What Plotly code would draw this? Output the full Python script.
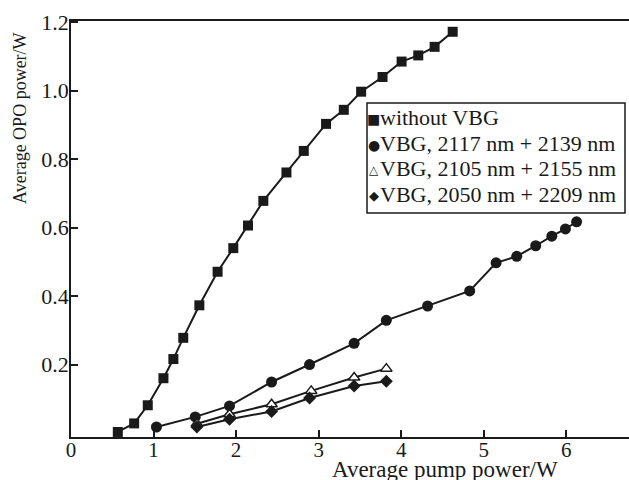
import plotly.graph_objects as go

# Average pump power (W) and average OPO output power (W) for each configuration
pump_no_vbg = [0.567, 0.765, 0.93, 1.12, 1.24, 1.36, 1.555, 1.776, 1.966, 2.144, 2.33,
               2.61, 2.82, 3.09, 3.305, 3.515, 3.774, 4.005, 4.207, 4.405, 4.624]
opo_no_vbg = [0.003, 0.028, 0.081, 0.16, 0.216, 0.278, 0.373, 0.471, 0.54, 0.606, 0.678,
              0.761, 0.824, 0.903, 0.944, 0.997, 1.04, 1.085, 1.103, 1.128, 1.172]

pump_2117 = [1.035, 1.505, 1.92, 2.43, 2.89, 3.43, 3.82, 4.32, 4.83, 5.15, 5.40,
             5.63, 5.825, 5.99, 6.125]
opo_2117 = [0.0175, 0.047, 0.079, 0.149, 0.2, 0.262, 0.329, 0.371, 0.415, 0.497, 0.516,
            0.547, 0.575, 0.596, 0.617]

pump_2105 = [1.525, 1.92, 2.43, 2.91, 3.43, 3.82]
opo_2105 = [0.027, 0.055, 0.084, 0.123, 0.162, 0.188]

pump_2050 = [1.525, 1.92, 2.43, 2.89, 3.43, 3.82]
opo_2050 = [0.0175, 0.04, 0.063, 0.102, 0.137, 0.151]

series_names = [
    "without VBG",
    "VBG, 2117 nm + 2139 nm",
    "VBG, 2105 nm + 2155 nm",
    "VBG, 2050 nm + 2209 nm",
]
legend_glyphs = ["\u25A0", "\u25CF", "\u25B3", "\u25C6"]
legend_glyph_sizes = [14, 14, 12, 13]

x_ticks = [0, 1, 2, 3, 4, 5, 6]
y_ticks = [0.2, 0.4, 0.6, 0.8, 1.0, 1.2]
y_tick_text = ["0.2", "0.4", "0.6", "0.8", "1.0", "1.2"]

x_title = "Average pump power/W"
y_title = "Average OPO power/W"

INK = "#1a1a1a"
SERIF = "Liberation Serif, Times New Roman, serif"
SYMBOL_FONT = "DejaVu Sans"

W, H = 629, 480
ML, MR, MT, MB = 71, 0, 21, 43

fig = go.Figure()

line_style = dict(color=INK, width=2)
fig.add_trace(go.Scatter(x=pump_no_vbg, y=opo_no_vbg, mode="lines+markers",
                         line=line_style, name=series_names[0],
                         marker=dict(symbol="square", size=10, color=INK)))
fig.add_trace(go.Scatter(x=pump_2117, y=opo_2117, mode="lines+markers",
                         line=line_style, name=series_names[1],
                         marker=dict(symbol="circle", size=11, color=INK)))
fig.add_trace(go.Scatter(x=pump_2105, y=opo_2105, mode="lines+markers",
                         line=line_style, name=series_names[2],
                         marker=dict(symbol="triangle-up", size=10, color="white",
                                     line=dict(color=INK, width=1.5))))
fig.add_trace(go.Scatter(x=pump_2050, y=opo_2050, mode="lines+markers",
                         line=line_style, name=series_names[3],
                         marker=dict(symbol="diamond", size=10, color=INK)))

# pixel -> paper helpers for the plot area
pw = W - ML - MR
ph = H - MT - MB


def px(xpix):
    return (xpix - ML) / pw


def py(ypix):
    return (H - MB - ypix) / ph


annotations = []
# legend: a symbol glyph and a label on each row
row_centers = [118, 143.5, 169, 194.5]
for name, glyph, gsize, yc in zip(series_names, legend_glyphs, legend_glyph_sizes, row_centers):
    annotations.append(dict(
        xref="paper", yref="paper", x=px(373.5), y=py(yc + 1),
        xanchor="center", yanchor="middle", showarrow=False, borderpad=0,
        text=glyph, font=dict(family=SYMBOL_FONT, size=gsize, color=INK),
    ))
    annotations.append(dict(
        xref="paper", yref="paper", x=px(379), y=py(yc),
        xanchor="left", yanchor="middle", showarrow=False, borderpad=0,
        text=name, font=dict(family=SERIF, size=22, color=INK),
    ))

# axis titles
annotations.append(dict(xref="paper", yref="paper", x=px(445), y=py(469),
                        xanchor="center", yanchor="middle", showarrow=False,
                        text=x_title, font=dict(family=SERIF, size=23, color=INK)))
annotations.append(dict(xref="paper", yref="paper", x=px(20), y=py(118),
                        xanchor="center", yanchor="middle", showarrow=False,
                        textangle=-90, text=y_title,
                        font=dict(family=SERIF, size=18, color=INK)))

fig.update_layout(
    width=W, height=H,
    margin=dict(l=ML, r=MR, t=MT, b=MB, pad=0),
    paper_bgcolor="white", plot_bgcolor="white",
    showlegend=False,
    font=dict(family=SERIF, size=21, color=INK),
    annotations=annotations,
    shapes=[dict(type="rect", xref="paper", yref="paper",
                 x0=px(367), x1=px(625), y0=py(213), y1=py(103),
                 line=dict(color=INK, width=1.5), fillcolor="rgba(0,0,0,0)")],
)

fig.update_xaxes(
    range=[0, 6.76], tickvals=x_ticks, ticks="inside", ticklen=7, tickwidth=1.5,
    tickcolor=INK, showline=True, linecolor=INK, linewidth=1.5, mirror=True,
    showgrid=False, zeroline=False, ticklabelstandoff=-7,
    tickfont=dict(family=SERIF, size=21, color=INK),
)
fig.update_yaxes(
    range=[-0.0117, 1.2035], tickvals=y_ticks, ticktext=y_tick_text, ticks="inside",
    ticklen=7, tickwidth=1.5, tickcolor=INK, showline=True, linecolor=INK, linewidth=1.5,
    showgrid=False, zeroline=False, ticklabelstandoff=-4,
    tickfont=dict(family=SERIF, size=22, color=INK),
)

fig.write_html("out.html")
